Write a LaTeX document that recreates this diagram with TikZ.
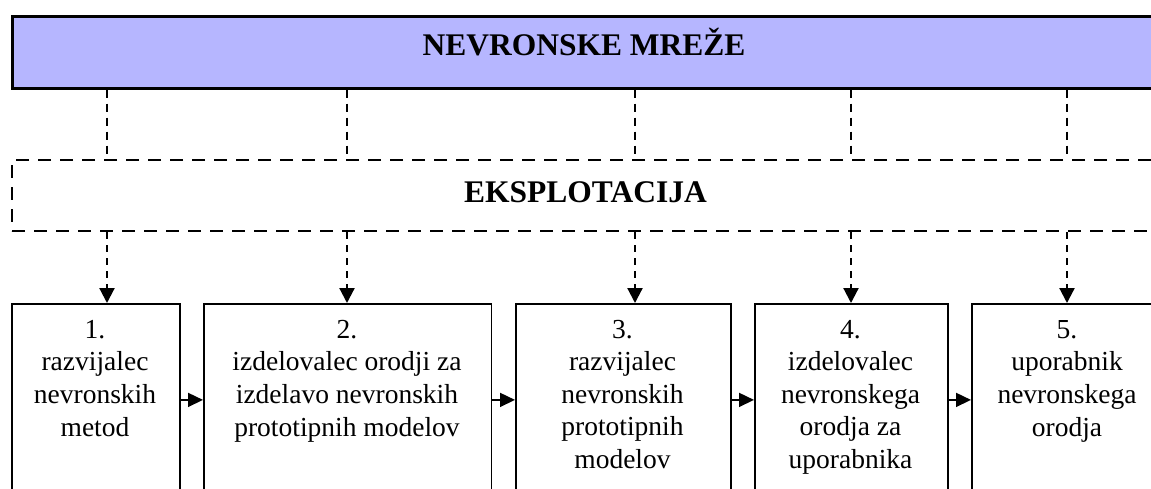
\documentclass[tikz,border=0pt]{standalone}
\usepackage{fontspec}
\setmainfont{Liberation Serif}
\usetikzlibrary{arrows.meta}
\definecolor{titlefill}{RGB}{182,182,255}
\tikzset{
  headbox/.style={draw=black, line width=2.6pt, fill=titlefill, inner sep=0pt, anchor=north west},
  groupbox/.style={draw=black, line width=2.3pt, dash pattern=on 13pt off 9pt, inner sep=0pt, anchor=north west},
  rolebox/.style={draw=black, line width=1.8pt, inner sep=0pt, anchor=north west, minimum height=192pt},
  link/.style={line width=1.6pt, dash pattern=on 8pt off 6pt},
  feed/.style={line width=2.2pt, dash pattern=on 7pt off 6pt, -{Triangle[length=15pt,width=15pt]}},
  flow/.style={line width=1.6pt, -{Triangle[length=15pt,width=14pt]}},
  headtext/.style={font=\fontsize{31.5}{36}\selectfont\bfseries, anchor=base, inner sep=0pt},
  % multi-line labels are placed by the baseline of their last line
  roletext/.style={font=\fontsize{27.5}{32.6}\selectfont, align=center, anchor=base, inner sep=0pt},
}
\begin{document}
\begin{tikzpicture}[x=1pt, y=-1pt]
  \useasboundingbox (0,0) rectangle (1151,488);
  \clip (0,0) rectangle (1151,488);
  \fill[white] (0,0) rectangle (1151,488);

  % top-level band and the exploitation group
  \node[headbox, minimum width=1149pt, minimum height=72pt] (head) at (11,15) {};
  \node[headtext] (headlbl) at (584,55) {NEVRONSKE MREŽE};
  \node[groupbox, minimum width=1150pt, minimum height=71pt] (eks) at (11,159) {};
  \node[headtext] (ekslbl) at (585.5,202) {EKSPLOTACIJA};

  % role boxes
  \node[rolebox, minimum width=168pt] (box1) at (11,303) {};
  \node[rolebox, minimum width=287.5pt] (box2) at (203,303) {};
  \node[rolebox, minimum width=215pt] (box3) at (515,303) {};
  \node[rolebox, minimum width=193pt] (box4) at (754,303) {};
  \node[rolebox, minimum width=192pt] (box5) at (971,303) {};

  \node[roletext] (t1) at (95,436) {1.\\razvijalec\\nevronskih\\metod};
  \node[roletext] (t2) at (347,436) {2.\\izdelovalec orodji za\\izdelavo nevronskih\\prototipnih modelov};
  \node[roletext] (t3) at (622.5,468.5) {3.\\razvijalec\\nevronskih\\prototipnih\\modelov};
  \node[roletext] (t4) at (850.5,468.5) {4.\\izdelovalec\\nevronskega\\orodja za\\uporabnika};
  \node[roletext] (t5) at (1067,436) {5.\\uporabnik\\nevronskega\\orodja};

  % connector columns
  \coordinate (c1) at (107,0);
  \coordinate (c2) at (347,0);
  \coordinate (c3) at (635,0);
  \coordinate (c4) at (851,0);
  \coordinate (c5) at (1067,0);

  \foreach \i in {1,...,5} {
    \draw[link] (head.south -| c\i) -- (eks.north -| c\i);
    \draw[feed] (eks.south -| c\i) -- (box\i.north -| c\i);
  }

  % sequence between roles
  \draw[flow] (box1.east) -- (box2.west);
  \draw[flow] (box2.east) -- (box3.west);
  \draw[flow] (box3.east) -- (box4.west);
  \draw[flow] (box4.east) -- (box5.west);
\end{tikzpicture}
\end{document}
